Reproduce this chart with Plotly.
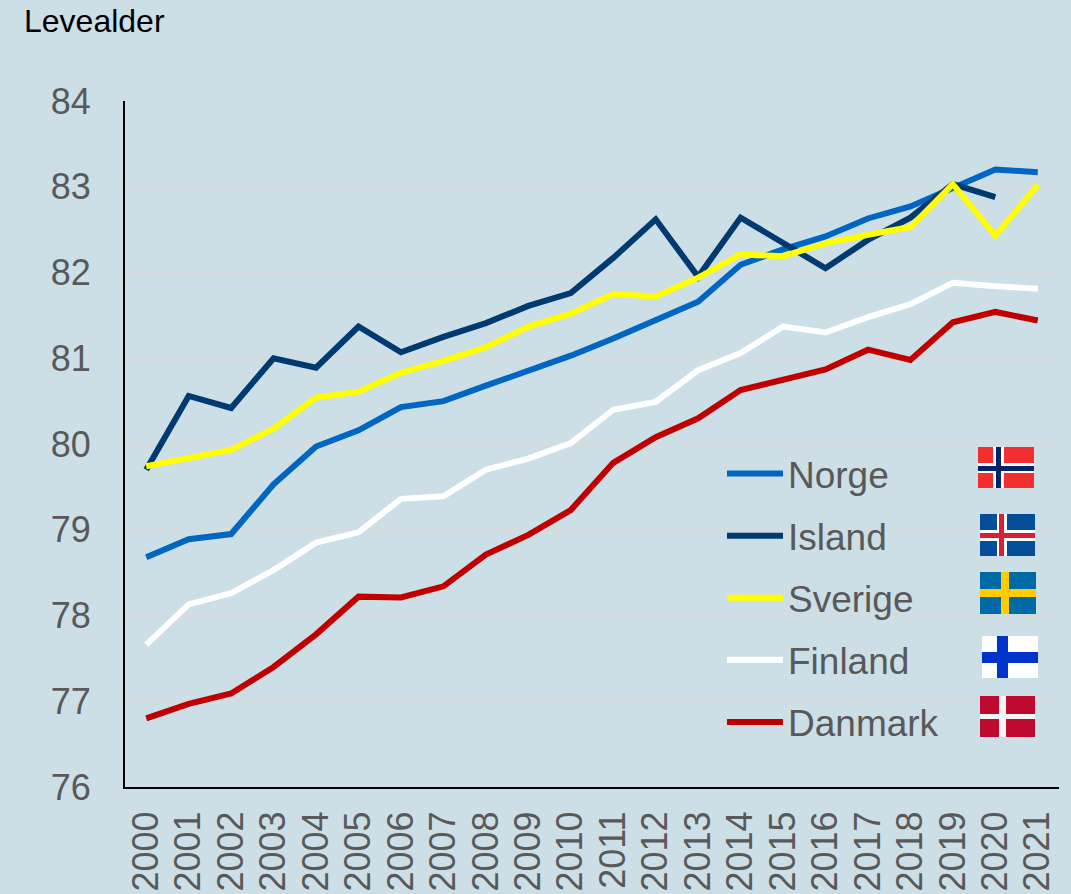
import plotly.graph_objects as go

years = [str(y) for y in range(2000, 2022)]
norge = [78.68, 78.89, 78.95, 79.53, 79.97, 80.16, 80.43, 80.50, 80.68, 80.85, 81.03, 81.23, 81.44, 81.66, 82.09, 82.27, 82.42, 82.63, 82.77, 82.98, 83.20, 83.17]
island = [79.70, 80.56, 80.42, 81.00, 80.89, 81.37, 81.07, 81.25, 81.41, 81.61, 81.76, 82.17, 82.62, 81.95, 82.64, 82.35, 82.05, 82.38, 82.64, 83.03, 82.88, None]
sverige = [79.74, 79.84, 79.93, 80.18, 80.54, 80.61, 80.83, 80.97, 81.13, 81.37, 81.52, 81.75, 81.72, 81.94, 82.21, 82.19, 82.34, 82.44, 82.53, 83.03, 82.43, 83.02]
finland = [77.66, 78.13, 78.26, 78.53, 78.85, 78.97, 79.36, 79.39, 79.70, 79.83, 80.01, 80.40, 80.49, 80.86, 81.06, 81.37, 81.30, 81.48, 81.63, 81.88, 81.84, 81.81]
danmark = [76.80, 76.97, 77.09, 77.40, 77.78, 78.22, 78.21, 78.34, 78.71, 78.94, 79.23, 79.78, 80.08, 80.30, 80.63, 80.75, 80.87, 81.10, 80.98, 81.42, 81.54, 81.44]
y_ticks = [76, 77, 78, 79, 80, 81, 82, 83, 84]

W, H = 1071, 894
BG = "#CCDEE6"
GREY = "#595959"
FONT = "Liberation Sans, Arial, sans-serif"
L, R, T, B = 125, 12, 101, 107

fig = go.Figure()
series = [("Norge", norge, "#0066C2"), ("Island", island, "#003A70"), ("Sverige", sverige, "#FFFF00"),
          ("Finland", finland, "#FFFFFF"), ("Danmark", danmark, "#C00000")]
for name, vals, col in series:
    fig.add_trace(go.Scatter(x=years, y=vals, name=name, mode="lines", legendgroup=name,
                             line=dict(color=col, width=6)))


def px_rect(x0, y0, x1, y1, color):
    return dict(type="rect", xref="paper", yref="paper", layer="above", line_width=0, fillcolor=color,
                x0=(x0 - L) / (W - L - R), x1=(x1 - L) / (W - L - R),
                y0=1 - (y0 - T) / (H - T - B), y1=1 - (y1 - T) / (H - T - B))


def flag(x0, y0, x1, y1, base, vert, horiz, inner=None):
    """vert/horiz: outer cross bands; inner: (colour, vband, hband) for a two-tone cross."""
    shapes = [px_rect(x0, y0, x1, y1, base),
              px_rect(vert[0], y0, vert[1], y1, vert[2]),
              px_rect(x0, horiz[0], x1, horiz[1], vert[2])]
    if inner:
        c, v, h = inner
        shapes += [px_rect(v[0], y0, v[1], y1, c), px_rect(x0, h[0], x1, h[1], c)]
    return shapes


shapes = []
shapes += flag(978, 447, 1034, 488, "#F22E30", (993, 1004, "#FFFFFF"), (463, 473),
               ("#00246B", (996, 1001), (466, 471)))
shapes += flag(980, 514, 1035, 556, "#034E96", (997, 1007, "#FFFFFF"), (530, 541),
               ("#DC1E35", (999, 1004), (533, 538)))
shapes += flag(980, 572, 1036, 614, "#006AA7", (1001, 1009, "#FECC00"), (589, 597))
shapes += flag(982, 636, 1038, 678, "#FFFFFF", (997, 1008, "#0033CC"), (652, 663))
shapes += flag(980, 696, 1035, 737, "#BE0A2E", (999, 1006, "#F5F5F5"), (714, 719))

fig.update_layout(
    width=W, height=H, autosize=False,
    paper_bgcolor=BG, plot_bgcolor=BG,
    margin=dict(l=L, r=R, t=T, b=B, pad=0, autoexpand=False),
    font=dict(family=FONT, size=36, color=GREY),
    shapes=shapes,
    showlegend=True,
    legend=dict(x=(722 - L) / (W - L - R), xanchor="left", y=1 - (443 - T) / (H - T - B), yanchor="top",
                bgcolor="rgba(0,0,0,0)", borderwidth=0, itemwidth=56, tracegroupgap=11,
                font=dict(family=FONT, size=37, color=GREY), itemclick=False, itemdoubleclick=False),
    annotations=[dict(text="Levealder", xref="paper", yref="paper", x=-103 / (W - L - R), xanchor="left",
                      y=1 + 80 / (H - T - B), yanchor="middle", showarrow=False,
                      font=dict(family=FONT, size=32, color="#000000"))],
)
fig.update_xaxes(type="category", range=[-0.5, 21.5], tickangle=-90, showgrid=False, ticks="", showline=True,
                 linecolor="#000000", linewidth=2, tickfont=dict(family=FONT, size=36, color=GREY),
                 ticklabelstandoff=8, tickmode="array", tickvals=years, ticktext=years, automargin=False)
fig.update_yaxes(range=[76, 84], tickvals=y_ticks, showgrid=True, gridcolor="#D9D9D9", gridwidth=1.5, ticks="",
                 showline=True, linecolor="#000000", linewidth=2, zeroline=False, automargin=False,
                 tickfont=dict(family=FONT, size=36, color=GREY), ticklabelstandoff=25)

fig.write_html("out.html", config=dict(displayModeBar=False),
               post_script=f"document.body.style.margin='0';document.body.style.background='{BG}';"
                           "document.documentElement.style.overflow='hidden';")
